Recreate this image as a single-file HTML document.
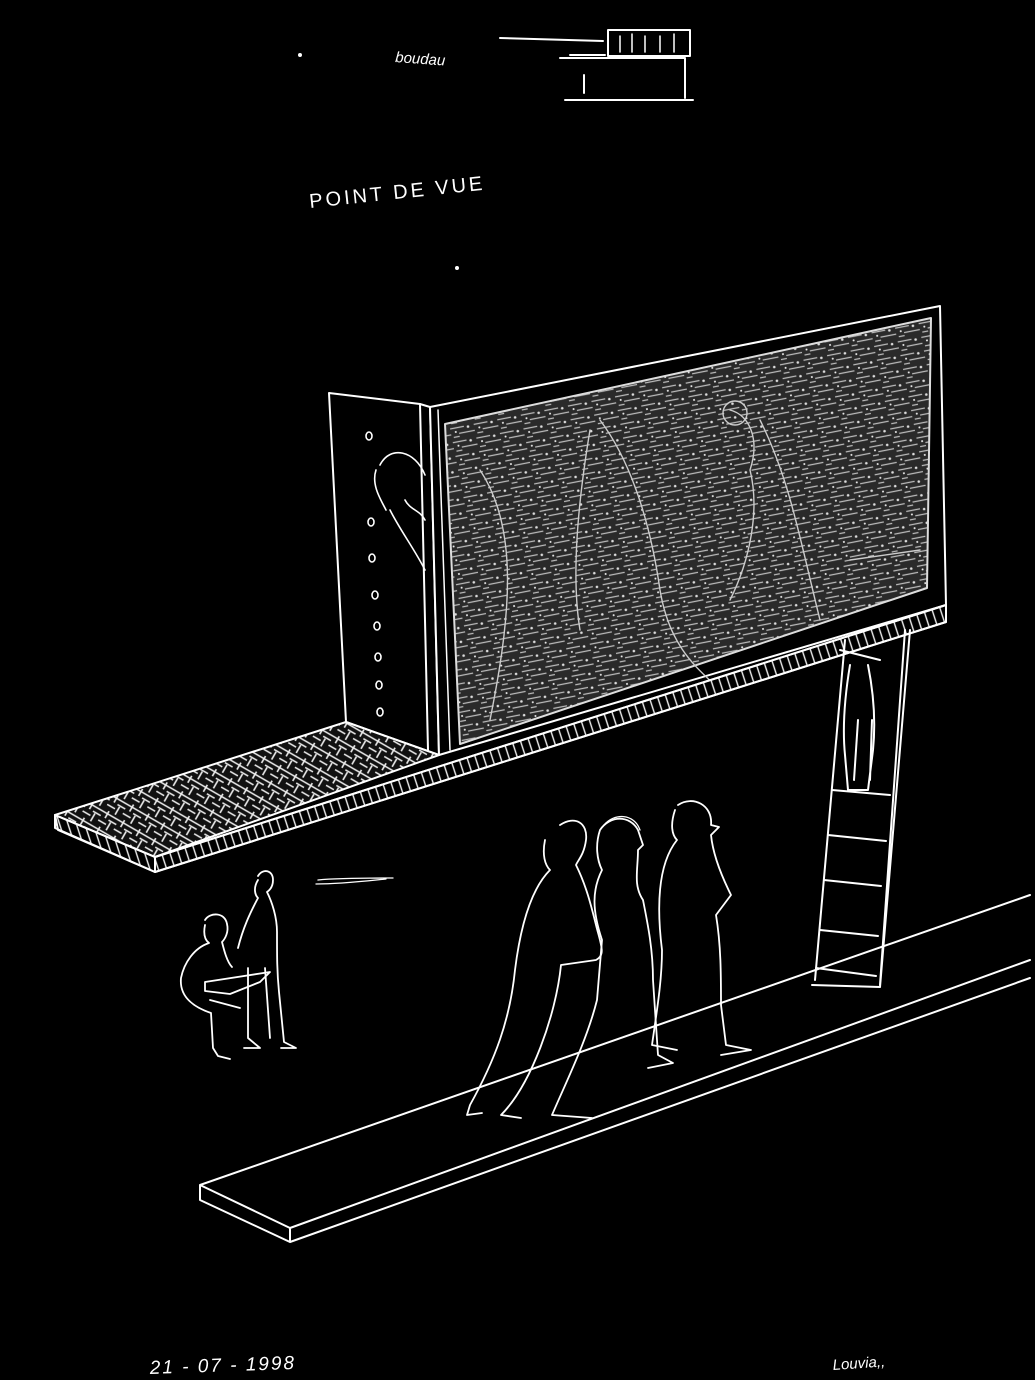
<!DOCTYPE html>
<html><head><meta charset="utf-8"><style>
html,body{margin:0;padding:0;background:#000;width:1035px;height:1380px;overflow:hidden}
svg{display:block}
text{font-family:"Liberation Sans",sans-serif;fill:#fff}
</style></head><body>
<svg width="1035" height="1380" viewBox="0 0 1035 1380" xmlns="http://www.w3.org/2000/svg">
<defs>
<pattern id="tex" width="24" height="14" patternUnits="userSpaceOnUse" patternTransform="rotate(-11)">
<rect width="24" height="14" fill="#2a2a2a"/>
<path d="M0 3h14M8 9h16M2 12h6" stroke="#bbb" stroke-width="1.2"/>
<circle cx="18" cy="4" r="1.3" fill="#ddd"/><circle cx="5" cy="7" r="1" fill="#eee"/>
</pattern>
<pattern id="hatch" width="18" height="18" patternUnits="userSpaceOnUse" patternTransform="rotate(30)">
<rect width="18" height="18" fill="#111"/>
<path d="M0 3h18M0 8h9M9 13h9M3 9v9M14 0v8" stroke="#eee" stroke-width="1.6"/>
</pattern>
<pattern id="edge" width="8" height="8" patternUnits="userSpaceOnUse" patternTransform="rotate(-18)">
<rect width="8" height="8" fill="#000"/><path d="M2 0v8" stroke="#eee" stroke-width="1.4"/>
</pattern>
</defs>
<g fill="none" stroke="#fff" stroke-width="2" stroke-linejoin="round" stroke-linecap="round">
<!-- top sketch -->
<text x="395" y="62" font-size="15" font-style="italic" stroke="none" transform="rotate(4 395 62)">boudau</text>
<path d="M500 38l103 3M570 55h35M608 30h82v26h-82zM560 58h125v40M565 100h128M584 75v18"/>
<path d="M620 36v16M632 34v18M645 36v16M660 36v16M674 34v18" stroke-width="1.5"/>
<circle cx="300" cy="55" r="1" fill="#fff"/><circle cx="457" cy="268" r="1" fill="#fff"/>
<text x="310" y="208" font-size="20" letter-spacing="3" stroke="none" transform="rotate(-6 310 208)">POINT  DE  VUE</text>
<!-- side panel -->
<path d="M329 393L420 404L430 407L439 755L346 722Z" fill="#000"/>
<path d="M420 404L428 750"/>
<g stroke-width="1.6">
<ellipse cx="369" cy="436" rx="3" ry="4"/><ellipse cx="371" cy="522" rx="3" ry="4"/><ellipse cx="372" cy="558" rx="3" ry="4"/><ellipse cx="375" cy="595" rx="3" ry="4"/><ellipse cx="377" cy="626" rx="3" ry="4"/><ellipse cx="378" cy="657" rx="3" ry="4"/><ellipse cx="379" cy="685" rx="3" ry="4"/><ellipse cx="380" cy="712" rx="3" ry="4"/>
<path d="M380 465c10-20 35-15 45 10M376 470c-5 15 5 30 10 40M390 510c10 20 25 40 35 60M405 500c5 10 15 10 20 20"/>
</g>
<!-- main board -->
<path d="M430 407L940 306L946 605L439 755Z" fill="#000"/>
<path d="M445 424L931 318L927 588L460 744Z" fill="url(#tex)" stroke="#ddd"/>
<path d="M438 410L450 750" stroke-width="1.5"/>
<g stroke="#ccc" stroke-width="1.4">
<path d="M600 420c30 40 50 100 60 170c10 60 40 80 60 100M590 430c-10 60-20 140-10 200M730 410c20 5 30 30 20 60c10 40 0 90-20 130M760 420c30 60 40 120 60 200M480 470c40 60 30 150 10 250M850 560l70-10"/>
<circle cx="735" cy="413" r="12"/>
</g>
<!-- platform -->
<path d="M55 815L346 722L439 755L155 857Z" fill="url(#hatch)"/>
<path d="M155 857L946 605L946 622L155 872Z" fill="url(#edge)"/>
<path d="M55 815L155 857L155 872L58 830Z" fill="url(#edge)"/>
<path d="M55 815L155 857L946 605M155 872L946 622M55 815V828L155 872M946 605V622"/>
<!-- ladder -->
<path d="M845 640L815 980M905 630L880 985M840 650L880 660M812 985L880 987L910 630"/>
<path d="M832 790l58 5M828 835l58 6M824 880l57 6M820 930l58 6M816 968l60 8"/>
<path d="M850 665c-5 30-8 60-5 90l3 35 20 0 5-40c3-30 0-60-5-85M858 720l-4 60M872 720l-2 60"/>
<!-- sidewalk -->
<path d="M200 1185L1030 895M200 1185L290 1228L1030 960M200 1185V1200L290 1242L1030 978M290 1228V1242"/>
<!-- small note -->
<path d="M318 880c20-2 50-2 75-2M316 884c25 0 50-3 70-5" stroke-width="1.3"/>
<!-- seated figure + standing -->
<g stroke-width="1.8">
<path d="M205 920c5-8 20-8 22 4c2 8-2 15-5 18c2 8 5 20 10 25"/>
<path d="M205 925c-2 10 0 15 4 18c-15 5-25 20-28 35c-2 20 15 30 30 35l2 35 5 8 12 3M210 1000l30 8"/>
<path d="M205 982l65-10l-10 10l-30 12l-25-3z"/>
<path d="M258 876c5-8 15-6 15 4c0 6-3 10-6 12c5 10 10 25 10 40c0 25 0 40 2 60l5 50 12 6l-15 0M258 880c-5 8-3 15 0 18c-8 15-15 30-20 50M248 968v70l12 10-16 0M265 968l5 70"/>
</g>
<!-- walking figures -->
<g stroke-width="1.8">
<path d="M560 825c15-10 28-2 26 15c-2 15-8 20-10 25c10 20 15 40 20 60c5 20 10 30 0 35l-35 5c-5 50-30 120-60 150l20 3M545 840c-3 15 0 25 5 30c-20 20-30 60-35 100c-5 50-20 90-45 135l-3 10 15-2"/>
<path d="M600 830c10-15 30-15 38 0l5 15-5 5c0 20-5 35 5 50c5 25 10 50 10 80l5 75 15 8-25 5M600 830c-5 15-3 30 2 40c-10 20-10 40 0 70l-5 60c-10 40-30 80-45 115l40 3"/>
<path d="M604 825c10-12 30-12 36 5" stroke-width="1.3"/>
<path d="M678 805c15-10 35 0 33 20l8 2-8 8c2 20 10 40 20 60l-15 20c5 30 5 60 5 90l5 40 25 5-30 5M675 810c-5 15-3 25 2 30c-20 25-20 70-15 110c0 30-5 60-10 95l25 5"/>
</g>
<!-- bottom text -->
<text x="150" y="1374" font-size="19" font-style="italic" letter-spacing="2" stroke="none" transform="rotate(-2 150 1374)">21 - 07 - 1998</text>
<text x="833" y="1370" font-size="15" font-style="italic" stroke="none" transform="rotate(-4 833 1370)">Louvia,,</text>
</g>
</svg>
</body></html>
